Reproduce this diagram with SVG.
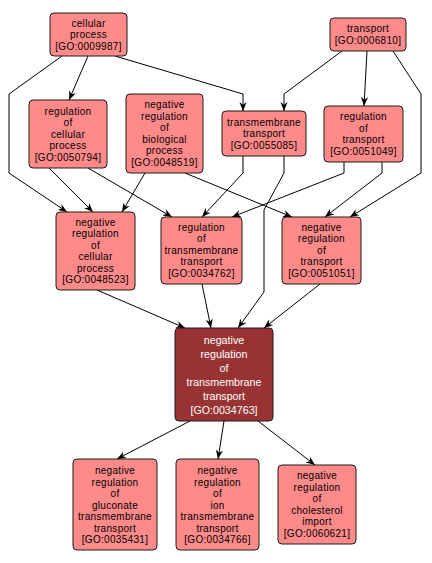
<svg xmlns="http://www.w3.org/2000/svg" width="432" height="563" viewBox="0 0 432 563">
<style>
.n rect{fill:#ff8a8a;stroke:#1a1a1a;stroke-width:1}
.c rect{fill:#993333;stroke:#1a1a1a;stroke-width:1}
.n text{font-family:"Liberation Sans",Arial,sans-serif;font-size:10px;letter-spacing:0.3px;fill:#000;text-anchor:middle}
.c text{font-family:"Liberation Sans",Arial,sans-serif;font-size:10.7px;fill:#fff;text-anchor:middle}
.e path{fill:none;stroke:#000;stroke-width:1}
</style>
<defs>
<marker id="a" viewBox="0 0 10 8" markerWidth="9" markerHeight="8" refX="10" refY="4" orient="auto" markerUnits="userSpaceOnUse">
<path d="M0,0 L10,4 L0,8 L3,4 z" fill="#000"/>
</marker>
</defs>
<rect width="432" height="563" fill="#fff"/>
<g class="e" marker-end="url(#a)">
<path d="M88,56 L69,100" marker-end="url(#a)"/>
<path d="M62,56 L9,94 L9,173 L67,212" marker-end="url(#a)"/>
<path d="M115,56 L243,94 L243,111" marker-end="url(#a)"/>
<path d="M342,51 L284,94 L284,111" marker-end="url(#a)"/>
<path d="M367,51 L364,106" marker-end="url(#a)"/>
<path d="M393,51 L421,94 L421,173 L350,217" marker-end="url(#a)"/>
<path d="M49,168 L93,212" marker-end="url(#a)"/>
<path d="M88,168 L172,217" marker-end="url(#a)"/>
<path d="M145,173 L122,212" marker-end="url(#a)"/>
<path d="M185,173 L292,217" marker-end="url(#a)"/>
<path d="M243,156 L243,173 L202,217" marker-end="url(#a)"/>
<path d="M284,156 L284,173 L264,210 L264,292 L238,328" marker-end="url(#a)"/>
<path d="M344,162 L344,173 L232,217" marker-end="url(#a)"/>
<path d="M382,162 L382,173 L325,217" marker-end="url(#a)"/>
<path d="M97,290 L185,328" marker-end="url(#a)"/>
<path d="M202,284 L211,328" marker-end="url(#a)"/>
<path d="M320,284 L264,328" marker-end="url(#a)"/>
<path d="M190,421 L117,459" marker-end="url(#a)"/>
<path d="M224,421 L218,459" marker-end="url(#a)"/>
<path d="M258,421 L315,465" marker-end="url(#a)"/>
</g>
<g id="GO0009987" class="n"><rect x="50" y="13" width="77" height="43" rx="4"/>
<text x="88.5" y="26.5">cellular</text><text x="88.5" y="38">process</text><text x="88.5" y="49.5">[GO:0009987]</text></g>
<g id="GO0006810" class="n"><rect x="330" y="18" width="76" height="33" rx="4"/>
<text x="368" y="32.25">transport</text><text x="368" y="43.75">[GO:0006810]</text></g>
<g id="GO0050794" class="n"><rect x="29" y="100" width="78" height="68" rx="4"/>
<text x="68" y="114.5">regulation</text><text x="68" y="126">of</text><text x="68" y="137.5">cellular</text><text x="68" y="149">process</text><text x="68" y="160.5">[GO:0050794]</text></g>
<g id="GO0048519" class="n"><rect x="126" y="94" width="77" height="79" rx="4"/>
<text x="164.5" y="108.25">negative</text><text x="164.5" y="119.75">regulation</text><text x="164.5" y="131.25">of</text><text x="164.5" y="142.75">biological</text><text x="164.5" y="154.25">process</text><text x="164.5" y="165.75">[GO:0048519]</text></g>
<g id="GO0055085" class="n"><rect x="222" y="111" width="84" height="45" rx="4"/>
<text x="264" y="125.5">transmembrane</text><text x="264" y="137">transport</text><text x="264" y="148.5">[GO:0055085]</text></g>
<g id="GO0051049" class="n"><rect x="324" y="106" width="79" height="56" rx="4"/>
<text x="363.5" y="120.25">regulation</text><text x="363.5" y="131.75">of</text><text x="363.5" y="143.25">transport</text><text x="363.5" y="154.75">[GO:0051049]</text></g>
<g id="GO0048523" class="n"><rect x="56" y="212" width="79" height="78" rx="4"/>
<text x="95.5" y="225.75">negative</text><text x="95.5" y="237.25">regulation</text><text x="95.5" y="248.75">of</text><text x="95.5" y="260.25">cellular</text><text x="95.5" y="271.75">process</text><text x="95.5" y="283.25">[GO:0048523]</text></g>
<g id="GO0034762" class="n"><rect x="161" y="217" width="81" height="67" rx="4"/>
<text x="201.5" y="230.5">regulation</text><text x="201.5" y="242">of</text><text x="201.5" y="253.5">transmembrane</text><text x="201.5" y="265">transport</text><text x="201.5" y="276.5">[GO:0034762]</text></g>
<g id="GO0051051" class="n"><rect x="282" y="217" width="79" height="67" rx="4"/>
<text x="321.5" y="230.5">negative</text><text x="321.5" y="242">regulation</text><text x="321.5" y="253.5">of</text><text x="321.5" y="265">transport</text><text x="321.5" y="276.5">[GO:0051051]</text></g>
<g id="GO0034763" class="c"><rect x="175" y="328" width="98" height="93" rx="4"/>
<text x="224" y="343.5">negative</text><text x="224" y="357.5">regulation</text><text x="224" y="371.5">of</text><text x="224" y="385.5">transmembrane</text><text x="224" y="399.5">transport</text><text x="224" y="413.5">[GO:0034763]</text></g>
<g id="GO0035431" class="n"><rect x="73" y="459" width="84" height="91" rx="4"/>
<text x="115" y="474">negative</text><text x="115" y="485.5">regulation</text><text x="115" y="497">of</text><text x="115" y="508.5">gluconate</text><text x="115" y="520">transmembrane</text><text x="115" y="531.5">transport</text><text x="115" y="543">[GO:0035431]</text></g>
<g id="GO0034766" class="n"><rect x="176" y="459" width="83" height="91" rx="4"/>
<text x="217.5" y="474">negative</text><text x="217.5" y="485.5">regulation</text><text x="217.5" y="497">of</text><text x="217.5" y="508.5">ion</text><text x="217.5" y="520">transmembrane</text><text x="217.5" y="531.5">transport</text><text x="217.5" y="543">[GO:0034766]</text></g>
<g id="GO0060621" class="n"><rect x="278" y="465" width="78" height="79" rx="4"/>
<text x="317" y="479.25">negative</text><text x="317" y="490.75">regulation</text><text x="317" y="502.25">of</text><text x="317" y="513.75">cholesterol</text><text x="317" y="525.25">import</text><text x="317" y="536.75">[GO:0060621]</text></g>
</svg>
